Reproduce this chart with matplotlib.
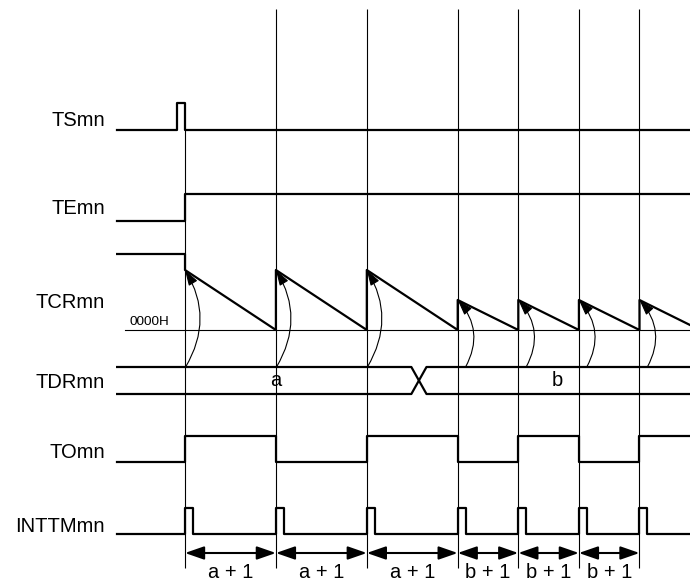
import matplotlib.pyplot as plt
from matplotlib.patches import FancyArrowPatch

plt.rcParams['font.family'] = ['Liberation Sans', 'DejaVu Sans']

# ---- data ----
# counter periods in count clocks: three times a + 1, then three times b + 1
period_labels = ["a + 1", "a + 1", "a + 1", "b + 1", "b + 1", "b + 1"]
period_lengths = [3, 3, 3, 2, 2, 2]
edges = [0]
for p in period_lengths:
    edges.append(edges[-1] + p)

signal_names = ["TSmn", "TEmn", "TCRmn", "TDRmn", "TOmn", "INTTMmn"]
label_y = [121, 208, 302, 382, 452, 526]

# TOmn level after each edge (1 = high)
to_states = [1, 0, 1, 0, 1, 0, 1]
# TCRmn reload value at each edge (row position of the ramp top)
tcr_tops = [270, 270, 270, 300, 300, 300, 300]
tdr_values = ["a", "b"]

# ---- lane layout (y positions, top = 0) ----
ts_low, ts_high = 130, 103
te_low, te_high = 221, 194
tcr_idle, tcr_zero = 254, 330
tdr_top, tdr_bot = 367, 394
to_low, to_high = 462, 436
int_low, int_high = 534, 508
dim_y = 553

t_left = -2.24
t_end = 17
pulse_w = 0.26
bus_cross = 7.72
bus_half = 0.25

fig = plt.figure(figsize=(6.9, 5.82), dpi=100)
ax = fig.add_axes([0, 0, 1, 1])
ax.set_xlim(-185 / 30.3, 505 / 30.3)
ax.set_ylim(582, 0)
ax.axis('off')

lw = 1.6
thin = 0.8
k = 'black'
fs = 14.5

# timing grid lines
ax.vlines(edges[1:], 9, 568, color=k, lw=thin)
ax.vlines(edges[0], ts_low, 568, color=k, lw=thin)

# TSmn
ax.plot([t_left, -pulse_w, -pulse_w, 0, 0, t_end],
        [ts_low, ts_low, ts_high, ts_high, ts_low, ts_low], color=k, lw=lw)

# TEmn
ax.plot([t_left, 0, 0, t_end], [te_low, te_low, te_high, te_high], color=k, lw=lw)

# TCRmn
xs = [t_left, 0, 0]
ys = [tcr_idle, tcr_idle, tcr_tops[0]]
for i in range(len(edges)):
    nxt = edges[i + 1] if i + 1 < len(edges) else edges[i] + period_lengths[-1]
    xs += [nxt]
    ys += [tcr_zero]
    if i + 1 < len(edges):
        xs += [nxt]
        ys += [tcr_tops[i + 1]]
ax.plot(xs, ys, color=k, lw=lw)
ax.plot([-1.98, t_end], [tcr_zero, tcr_zero], color=k, lw=thin)
ax.text(-1.82, tcr_zero - 2, "0000H", fontsize=9.7, ha='left', va='bottom')

# reload arrows TDRmn -> TCRmn
for e, top in zip(edges, tcr_tops):
    if top == 270:
        start, rad = (e + 0.02, tdr_top), 0.3
    else:
        start, rad = (e + 0.26, tdr_top), 0.35
    arr = FancyArrowPatch(start, (e, top), connectionstyle=f"arc3,rad={rad}",
                          arrowstyle='-|>,head_length=0.95,head_width=0.3',
                          mutation_scale=10, lw=0.8, color=k,
                          shrinkA=0, shrinkB=0)
    ax.add_patch(arr)

# TDRmn bus
ax.plot([t_left, bus_cross - bus_half, bus_cross + bus_half, t_end],
        [tdr_top, tdr_top, tdr_bot, tdr_bot], color=k, lw=lw)
ax.plot([t_left, bus_cross - bus_half, bus_cross + bus_half, t_end],
        [tdr_bot, tdr_bot, tdr_top, tdr_top], color=k, lw=lw)
ax.text(edges[1], (tdr_top + tdr_bot) / 2, tdr_values[0], fontsize=fs,
        ha='center', va='center')
ax.text(12.3, (tdr_top + tdr_bot) / 2, tdr_values[1], fontsize=fs,
        ha='center', va='center')

# TOmn
xs = [t_left]
ys = [to_low]
level = to_low
for e, s in zip(edges, to_states):
    new = to_high if s else to_low
    xs += [e, e]
    ys += [level, new]
    level = new
xs.append(t_end)
ys.append(level)
ax.plot(xs, ys, color=k, lw=lw)

# INTTMmn
xs = [t_left]
ys = [int_low]
for e in edges:
    xs += [e, e, e + pulse_w, e + pulse_w]
    ys += [int_low, int_high, int_high, int_low]
xs.append(t_end)
ys.append(int_low)
ax.plot(xs, ys, color=k, lw=lw)

# period dimensions
for i, lab in enumerate(period_labels):
    a0, a1 = edges[i], edges[i + 1]
    ax.annotate('', xy=(a1, dim_y), xytext=(a0, dim_y),
                arrowprops=dict(arrowstyle='<|-|>,head_length=1.15,head_width=0.4',
                                mutation_scale=10, lw=1.5, color=k,
                                shrinkA=0, shrinkB=0))
    ax.text((a0 + a1) / 2, 573, lab, fontsize=fs, ha='center', va='center')

# signal names
for name, y in zip(signal_names, label_y):
    ax.text(-2.65, y, name, fontsize=fs, ha='right', va='center')

fig.savefig("out.png", dpi=100)
